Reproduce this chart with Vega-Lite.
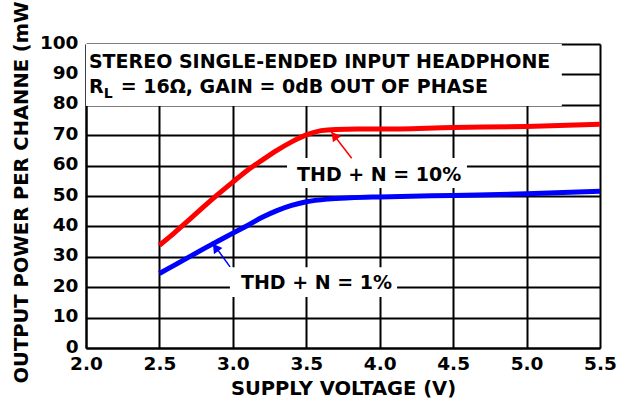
{
  "$schema": "https://vega.github.io/schema/vega-lite/v6.json",
  "autosize": "none",
  "width": 514,
  "height": 304,
  "padding": {"left": 86, "top": 44, "right": 32, "bottom": 52},
  "background": "white",
  "config": {
    "view": {"stroke": null},
    "font": "DejaVu Sans",
    "axis": {
      "domainColor": "black", "domainWidth": 2,
      "gridColor": "black", "gridWidth": 2, "gridOpacity": 1,
      "ticks": false, "labelOverlap": false, "labelFlush": false,
      "labelFont": "DejaVu Sans", "labelFontWeight": "bold", "labelFontSize": 18.5, "labelColor": "black",
      "titleFont": "DejaVu Sans", "titleFontWeight": "bold", "titleFontSize": 19.5, "titleColor": "black"
    }
  },
  "datasets": {
    "curves": [
      {"x": 2.5, "y": 33.8, "s": "10%"}, {"x": 2.6, "y": 37.8, "s": "10%"}, {"x": 2.7, "y": 42.1, "s": "10%"},
      {"x": 2.8, "y": 46.4, "s": "10%"}, {"x": 2.9, "y": 50.6, "s": "10%"}, {"x": 3.0, "y": 54.6, "s": "10%"},
      {"x": 3.1, "y": 58.5, "s": "10%"}, {"x": 3.2, "y": 61.8, "s": "10%"}, {"x": 3.3, "y": 65.0, "s": "10%"},
      {"x": 3.4, "y": 67.8, "s": "10%"}, {"x": 3.5, "y": 70.1, "s": "10%"}, {"x": 3.6, "y": 71.5, "s": "10%"},
      {"x": 3.7, "y": 71.9, "s": "10%"}, {"x": 3.85, "y": 72.0, "s": "10%"}, {"x": 4.0, "y": 72.0, "s": "10%"},
      {"x": 4.5, "y": 72.5, "s": "10%"}, {"x": 5.0, "y": 72.9, "s": "10%"}, {"x": 5.5, "y": 73.6, "s": "10%"},
      {"x": 2.5, "y": 24.5, "s": "1%"}, {"x": 2.6, "y": 27.2, "s": "1%"}, {"x": 2.7, "y": 29.9, "s": "1%"},
      {"x": 2.8, "y": 32.6, "s": "1%"}, {"x": 2.9, "y": 35.2, "s": "1%"}, {"x": 3.0, "y": 37.8, "s": "1%"},
      {"x": 3.1, "y": 40.3, "s": "1%"}, {"x": 3.2, "y": 43.0, "s": "1%"}, {"x": 3.3, "y": 45.2, "s": "1%"},
      {"x": 3.4, "y": 46.9, "s": "1%"}, {"x": 3.5, "y": 48.1, "s": "1%"}, {"x": 3.65, "y": 49.0, "s": "1%"},
      {"x": 3.8, "y": 49.4, "s": "1%"}, {"x": 4.0, "y": 49.7, "s": "1%"}, {"x": 4.5, "y": 50.2, "s": "1%"},
      {"x": 5.0, "y": 50.7, "s": "1%"}, {"x": 5.5, "y": 51.6, "s": "1%"}
    ],
    "boxes": [
      {"x": 2.0, "x2": 5.24, "y": 79.6, "y2": 100},
      {"x": 3.369, "x2": 4.594, "y": 52.6, "y2": 62.5},
      {"x": 2.98, "x2": 4.118, "y": 16.8, "y2": 26.6}
    ],
    "arrows": [
      {"x": 3.809, "y": 62.4, "x2": 3.661, "y2": 71.7, "s": "10%"},
      {"x": 2.981, "y": 26.7, "x2": 2.856, "y2": 35.0, "s": "1%"}
    ],
    "heads": [
      {"x": 3.691, "y": 69.9, "a": 322.5, "s": "10%"},
      {"x": 2.882, "y": 33.1, "a": 324, "s": "1%"}
    ],
    "labels": [
      {"x": 2.02, "y": 92.1, "t": "STEREO SINGLE-ENDED INPUT HEADPHONE"},
      {"x": 2.02, "y": 83.9, "t": "R"},
      {"x": 2.236, "y": 83.9, "t": "= 16Ω, GAIN = 0dB OUT OF PHASE"},
      {"x": 3.437, "y": 54.9, "t": "THD + N = 10%"},
      {"x": 3.055, "y": 19.4, "t": "THD + N = 1%"}
    ],
    "subs": [
      {"x": 2.121, "y": 82.4, "t": "L"}
    ]
  },
  "encoding": {
    "x": {"field": "x", "type": "quantitative", "scale": {"domain": [2, 5.5], "nice": false},
          "axis": {"values": [2, 2.5, 3, 3.5, 4, 4.5, 5, 5.5], "format": ".1f", "title": "SUPPLY VOLTAGE (V)", "labelPadding": 6, "titlePadding": 7}},
    "y": {"field": "y", "type": "quantitative", "scale": {"domain": [0, 100], "nice": false},
          "axis": {"values": [0, 10, 20, 30, 40, 50, 60, 70, 80, 90, 100], "title": "OUTPUT POWER PER CHANNE (mW)", "labelPadding": 8, "labelOffset": -2,
                   "titleAngle": 270, "titleX": -65, "titleY": 339, "titleAlign": "left", "titleBaseline": "middle"}}
  },
  "layer": [
    {
      "data": {"name": "boxes"},
      "mark": {"type": "rect", "color": "white"},
      "encoding": {"x2": {"field": "x2"}, "y2": {"field": "y2"}}
    },
    {
      "data": {"name": "curves"},
      "mark": {"type": "line", "strokeWidth": 5, "interpolate": "monotone"},
      "encoding": {
        "color": {"field": "s", "type": "nominal", "scale": {"domain": ["10%", "1%"], "range": ["#ff0000", "#0000ff"]}, "legend": null}
      }
    },
    {
      "data": {"name": "arrows"},
      "mark": {"type": "rule", "strokeWidth": 1.5},
      "encoding": {
        "x2": {"field": "x2"}, "y2": {"field": "y2"},
        "color": {"field": "s", "type": "nominal", "legend": null}
      }
    },
    {
      "data": {"name": "heads"},
      "mark": {"type": "point", "shape": "triangle-up", "filled": true, "opacity": 1, "size": 110},
      "encoding": {
        "angle": {"field": "a", "type": "quantitative", "scale": null},
        "color": {"field": "s", "type": "nominal", "legend": null}
      }
    },
    {
      "data": {"name": "labels"},
      "mark": {"type": "text", "align": "left", "baseline": "alphabetic", "fontSize": 19, "fontWeight": "bold", "font": "DejaVu Sans", "color": "black"},
      "encoding": {"text": {"field": "t"}}
    },
    {
      "data": {"name": "subs"},
      "mark": {"type": "text", "align": "left", "baseline": "alphabetic", "fontSize": 14, "fontWeight": "bold", "font": "DejaVu Sans", "color": "black"},
      "encoding": {"text": {"field": "t"}}
    }
  ]
}
